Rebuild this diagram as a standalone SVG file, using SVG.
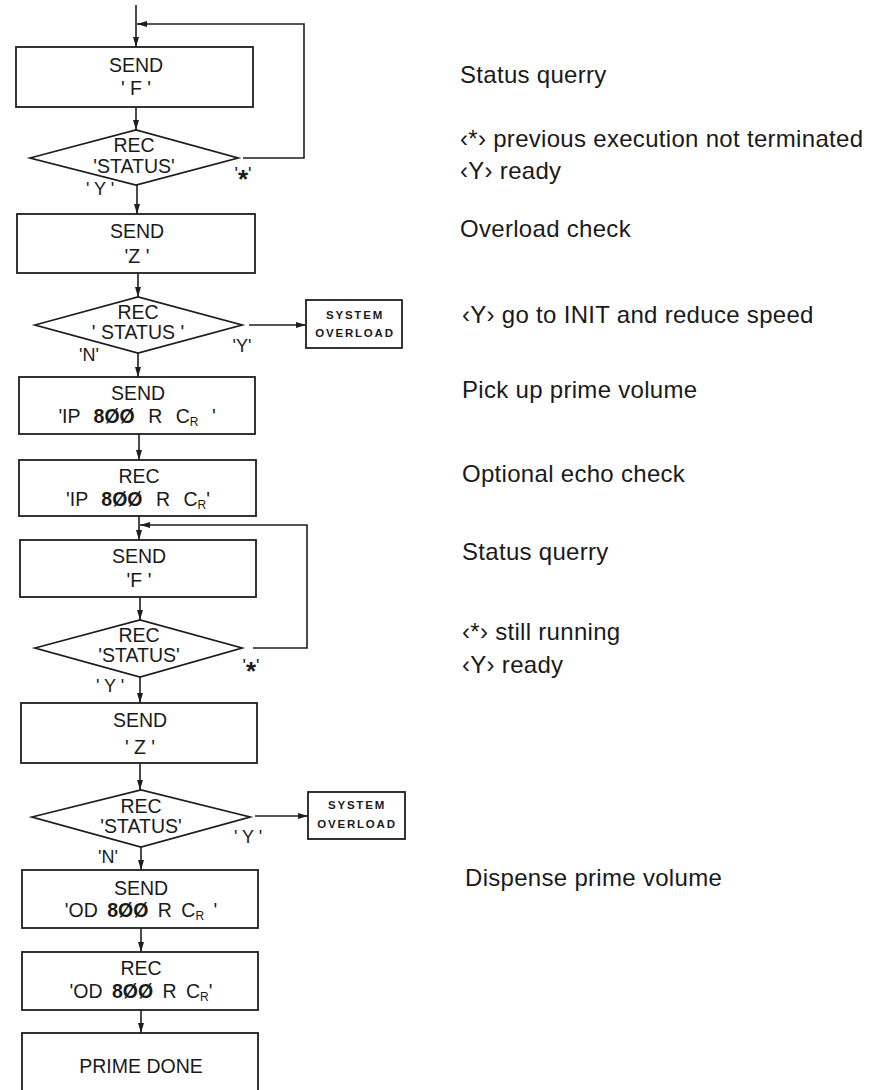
<svg xmlns="http://www.w3.org/2000/svg" width="887" height="1090" viewBox="0 0 887 1090">
<defs>
<marker id="ah" viewBox="0 0 10 6" refX="10" refY="3" markerWidth="10" markerHeight="6" markerUnits="userSpaceOnUse" orient="auto"><path d="M0,0 L10,3 L0,6 z" fill="#1e1e1e"/></marker>
<style>
.b{fill:#fff;stroke:#1e1e1e;stroke-width:1.8}
.c{fill:none;stroke:#1e1e1e;stroke-width:1.6}
.t{font-family:"Liberation Sans",Arial,sans-serif;font-size:19.5px;fill:#1a1a1a;text-anchor:middle}
.s{font-family:"Liberation Sans",Arial,sans-serif;font-size:11.5px;font-weight:bold;letter-spacing:1.8px;fill:#1a1a1a;text-anchor:middle}
.l{font-family:"Liberation Sans",Arial,sans-serif;font-size:18px;fill:#1a1a1a;text-anchor:middle}
.n{font-family:"Liberation Sans",Arial,sans-serif;font-size:24px;letter-spacing:0.3px;fill:#1a1a1a}
.z{font-weight:bold}
.sub{font-size:12px}
</style>
</defs>
<rect width="887" height="1090" fill="#fff"/>

<g id="connectors">
<path class="c" d="M136,5 V47" marker-end="url(#ah)"/>
<path class="c" d="M243,158 H304 V24 H137" marker-end="url(#ah)"/>
<path class="c" d="M136,107 V130" marker-end="url(#ah)"/>
<path class="c" d="M137,185 V214" marker-end="url(#ah)"/>
<path class="c" d="M138,273 V297" marker-end="url(#ah)"/>
<path class="c" d="M249,325 H306" marker-end="url(#ah)"/>
<path class="c" d="M138,353 V377" marker-end="url(#ah)"/>
<path class="c" d="M139,434 V460" marker-end="url(#ah)"/>
<path class="c" d="M139,516 V540" marker-end="url(#ah)"/>
<path class="c" d="M253,648 H307 V525 H140" marker-end="url(#ah)"/>
<path class="c" d="M140,597 V620" marker-end="url(#ah)"/>
<path class="c" d="M140,677 V703" marker-end="url(#ah)"/>
<path class="c" d="M140,763 V790" marker-end="url(#ah)"/>
<path class="c" d="M255,816 H308" marker-end="url(#ah)"/>
<path class="c" d="M141,847 V870" marker-end="url(#ah)"/>
<path class="c" d="M141,928 V952" marker-end="url(#ah)"/>
<path class="c" d="M141,1010 V1033" marker-end="url(#ah)"/>
</g>

<g id="send-f-1">
<rect class="b" x="16" y="47" width="237" height="60"/>
<text class="t" x="136" y="72">SEND</text>
<text class="t" x="136" y="95">' F '</text>
</g>

<g id="rec-status-1">
<polygon class="b" points="30,158 136,130 238,158 136,185"/>
<text class="t" x="134" y="152">REC</text>
<text class="t" x="134" y="173">'STATUS'</text>
<text class="l" x="100" y="195">' Y '</text>
<text class="l" x="243" y="180">'<tspan font-size="26" font-weight="bold" dy="8">*</tspan><tspan dy="-8">'</tspan></text>
</g>

<g id="send-z-1">
<rect class="b" x="17" y="214" width="238" height="59"/>
<text class="t" x="137" y="238">SEND</text>
<text class="t" x="137" y="263">'Z '</text>
</g>

<g id="rec-status-2">
<polygon class="b" points="35,325 138,297 242,325 138,353"/>
<text class="t" x="138" y="319">REC</text>
<text class="t" x="138" y="339">' STATUS '</text>
<text class="l" x="89" y="361">'N'</text>
<text class="l" x="242" y="352">'Y'</text>
</g>

<g id="system-overload-1">
<rect class="b" x="306" y="300" width="96" height="48"/>
<text class="s" x="355" y="319">SYSTEM</text>
<text class="s" x="355" y="337">OVERLOAD</text>
</g>

<g id="send-ip">
<rect class="b" x="19" y="377" width="236" height="57"/>
<text class="t" x="138" y="400">SEND</text>
<text class="t" x="137" y="423" word-spacing="8">'IP <tspan class="z">8ØØ</tspan> R C<tspan class="sub" dy="3">R</tspan><tspan dy="-3"> '</tspan></text>
</g>

<g id="rec-ip">
<rect class="b" x="19" y="460" width="237" height="56"/>
<text class="t" x="139" y="483">REC</text>
<text class="t" x="138" y="506" word-spacing="8">'IP <tspan class="z">8ØØ</tspan> R C<tspan class="sub" dy="3">R</tspan><tspan dy="-3">'</tspan></text>
</g>

<g id="send-f-2">
<rect class="b" x="20" y="540" width="236" height="57"/>
<text class="t" x="139" y="563">SEND</text>
<text class="t" x="139" y="587">'F '</text>
</g>

<g id="rec-status-3">
<polygon class="b" points="35,648 140,620 242,648 140,677"/>
<text class="t" x="139" y="642">REC</text>
<text class="t" x="139" y="662">'STATUS'</text>
<text class="l" x="110" y="692">' Y '</text>
<text class="l" x="251" y="672">'<tspan font-size="26" font-weight="bold" dy="8">*</tspan><tspan dy="-8">'</tspan></text>
</g>

<g id="send-z-2">
<rect class="b" x="21" y="703" width="236" height="60"/>
<text class="t" x="140" y="727">SEND</text>
<text class="t" x="140" y="754">' Z '</text>
</g>

<g id="rec-status-4">
<polygon class="b" points="32,817 141,790 250,817 141,847"/>
<text class="t" x="141" y="813">REC</text>
<text class="t" x="141" y="833">'STATUS'</text>
<text class="l" x="108" y="863">'N'</text>
<text class="l" x="248" y="843">' Y '</text>
</g>

<g id="system-overload-2">
<rect class="b" x="308" y="792" width="97" height="47"/>
<text class="s" x="357" y="809">SYSTEM</text>
<text class="s" x="357" y="828">OVERLOAD</text>
</g>

<g id="send-od">
<rect class="b" x="22" y="870" width="236" height="58"/>
<text class="t" x="141" y="895">SEND</text>
<text class="t" x="141" y="917" word-spacing="4">'OD <tspan class="z">8ØØ</tspan> R C<tspan class="sub" dy="3">R</tspan><tspan dy="-3"> '</tspan></text>
</g>

<g id="rec-od">
<rect class="b" x="22" y="952" width="236" height="58"/>
<text class="t" x="141" y="975">REC</text>
<text class="t" x="141" y="998" word-spacing="4">'OD <tspan class="z">8ØØ</tspan> R C<tspan class="sub" dy="3">R</tspan><tspan dy="-3">'</tspan></text>
</g>

<g id="prime-done">
<rect class="b" x="22" y="1033" width="236" height="62"/>
<text class="t" x="141" y="1073">PRIME DONE</text>
</g>

<g id="notes">
<text class="n" x="460" y="83">Status querry</text>
<text class="n" x="460" y="147">‹*› previous execution not terminated</text>
<text class="n" x="460" y="179">‹Y› ready</text>
<text class="n" x="460" y="237">Overload check</text>
<text class="n" x="462" y="323">‹Y› go to INIT and reduce speed</text>
<text class="n" x="462" y="398">Pick up prime volume</text>
<text class="n" x="462" y="482">Optional echo check</text>
<text class="n" x="462" y="560">Status querry</text>
<text class="n" x="462" y="640">‹*› still running</text>
<text class="n" x="462" y="673">‹Y› ready</text>
<text class="n" x="465" y="886">Dispense prime volume</text>
</g>
</svg>
